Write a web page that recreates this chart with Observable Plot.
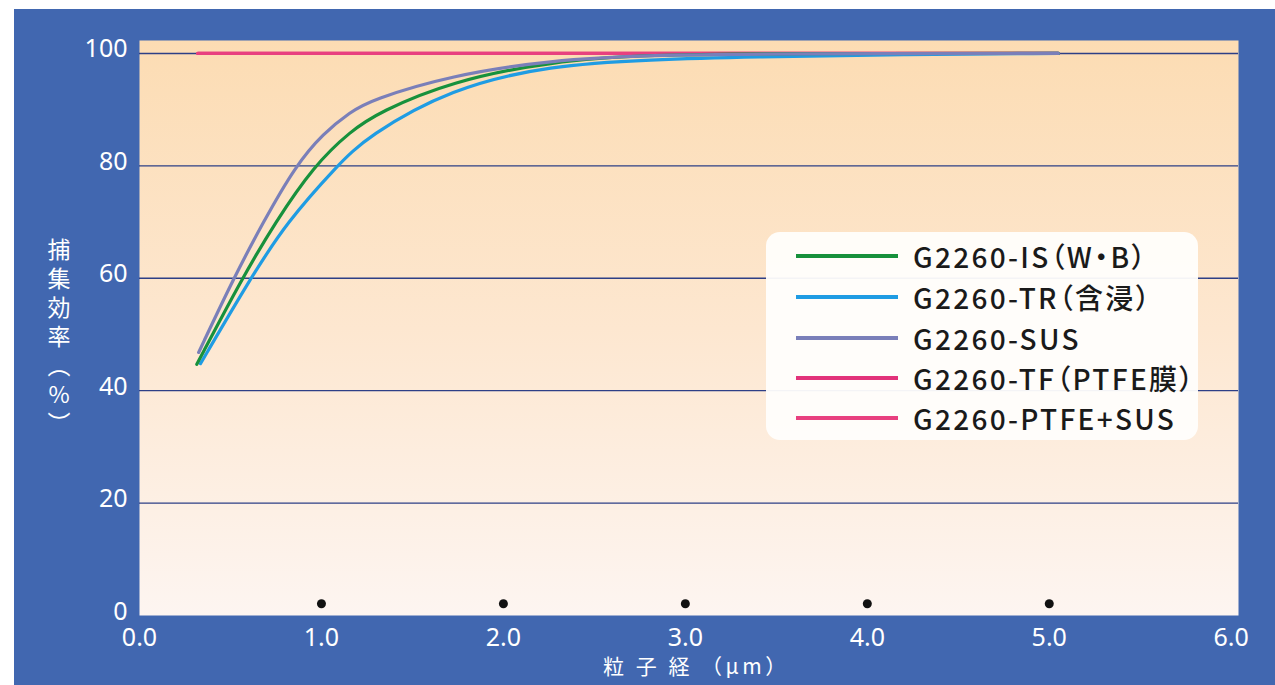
<!DOCTYPE html>
<html>
<head>
<meta charset="utf-8">
<script src="https://cdn.jsdelivr.net/npm/d3@7"></script>
<script src="https://cdn.jsdelivr.net/npm/@observablehq/plot@0.6"></script>
<style>
  html, body { margin: 0; padding: 0; background: #ffffff; width: 1275px; height: 685px; overflow: hidden; }
  #frame { position: absolute; left: 14px; top: 9px; width: 1261px; height: 676px; background: #4167b0; }
  #chart { position: absolute; left: 0; top: 0; }
  #ytitle { position: absolute; left: 47px; top: 238px; writing-mode: vertical-rl; text-orientation: upright;
            color: #fff; font-family: "Noto Sans CJK JP", sans-serif; font-size: 23px; letter-spacing: 6px; line-height: 1; }
  #xtitle { position: absolute; left: 603px; top: 655px; color: #fff; font-family: "Noto Sans CJK JP", sans-serif;
            font-size: 21px; letter-spacing: 3.5px; line-height: 1; white-space: pre; }
  #legend { position: absolute; left: 766px; top: 232px; width: 432px; height: 208px; background: rgba(255,254,252,0.95);
            border-radius: 14px; }
  .row { position: absolute; left: 30px; height: 32px; display: flex; align-items: center; }
  .sw { width: 102px; height: 4px; margin-right: 15px; }
  .lab { font-family: "Noto Sans CJK JP", sans-serif; font-size: 28px; font-weight: 500; color: #1a1a1a; white-space: nowrap;
         font-feature-settings: "palt"; letter-spacing: 2.3px; }
</style>
</head>
<body>
<div id="frame"></div>
<div id="chart"></div>
<div id="ytitle">捕集効率（%）</div>
<div id="xtitle">粒 子 経 （μm）</div>
<div id="legend"></div>
<script>
// ---- data ----
const seriesNames = ["G2260-IS（W・B）", "G2260-TR（含浸）", "G2260-SUS", "G2260-TF（PTFE膜）", "G2260-PTFE+SUS"];
const seriesColors = ["#17913c", "#1f9ce3", "#7a7fb9", "#e2337a", "#e8407f"];

const isX  = [0.315, 0.564, 0.747, 0.958, 1.16, 1.32, 1.71, 2.26, 2.81, 3.5, 5.05];
const isY  = [44.7, 60.0, 70.0, 80.0, 86.2, 89.6, 95.0, 98.6, 99.8, 100, 100];
const trX  = [0.335, 0.61, 0.81, 1.086, 1.25, 1.71, 2.26, 2.81, 3.36, 4.2, 5.05];
const trY  = [44.8, 60.0, 70.0, 80.0, 85.2, 93.8, 97.9, 98.9, 99.4, 99.8, 100];
const susX = [0.325, 0.517, 0.68, 0.857, 1.01, 1.16, 1.27, 1.71, 2.26, 2.81, 3.5, 5.05];
const susY = [46.8, 60.0, 70.0, 80.0, 85.8, 89.6, 91.7, 96.1, 98.8, 99.7, 99.95, 100];
const tfX  = [0.32, 5.05];
const tfY  = [100, 100];
const ptfeX = [0.32, 5.05];
const ptfeY = [100, 100];

const dotX = [1, 2, 3, 4, 5];
const dotY = [2.1, 2.1, 2.1, 2.1, 2.1];

const yTicks = [0, 20, 40, 60, 80, 100];
const gridY = [20, 40, 60, 80, 100];
const xTicks = [0, 1, 2, 3, 4, 5, 6];

// ---- build tables ----
const toRows = (xs, ys, name) => xs.map((x, i) => ({x, y: ys[i], name}));
const lines = [
  toRows(tfX, tfY, seriesNames[3]),
  toRows(ptfeX, ptfeY, seriesNames[4]),
  toRows(trX, trY, seriesNames[1]),
  toRows(isX, isY, seriesNames[0]),
  toRows(susX, susY, seriesNames[2])
];
const dots = dotX.map((x, i) => ({x, y: dotY[i]}));
const colorOf = name => seriesColors[seriesNames.indexOf(name)];

const plot = Plot.plot({
  width: 1275,
  height: 685,
  marginLeft: 139,
  marginRight: 37,
  marginTop: 40,
  marginBottom: 70,
  style: {background: "transparent", color: "#fff", fontFamily: "'Noto Sans', sans-serif", overflow: "visible"},
  x: {domain: [0, 6.04], label: null},
  y: {domain: [0, 102.3], label: null},
  marks: [
    Plot.frame({fill: "url(#plotbg)", stroke: null}),
    Plot.ruleY(gridY, {stroke: "#2d3f86", strokeWidth: 1.4}),
    ...lines.map(rows => Plot.line(rows, {x: "x", y: "y", stroke: colorOf(rows[0].name), strokeWidth: 3.2, curve: "basis"})),
    Plot.dot(dots, {x: "x", y: "y", r: 4.5, fill: "#111", stroke: null}),
    Plot.axisX({ticks: xTicks, tickFormat: d3.format(".1f"), tickSize: 0, tickPadding: 13, fontSize: 25, fill: "#fff"}),
    Plot.axisY({ticks: yTicks, tickSize: 0, tickPadding: 12, fontSize: 25, fill: "#fff", dy: -4})
  ]
});

// gradient for plot area
const ns = "http://www.w3.org/2000/svg";
const defs = document.createElementNS(ns, "defs");
const grad = document.createElementNS(ns, "linearGradient");
grad.setAttribute("id", "plotbg");
grad.setAttribute("x1", "0"); grad.setAttribute("y1", "0");
grad.setAttribute("x2", "0"); grad.setAttribute("y2", "1");
[["0%", "#fcdcb3"], ["50%", "#fde7d0"], ["100%", "#fdf5f1"]].forEach(([o, c]) => {
  const s = document.createElementNS(ns, "stop");
  s.setAttribute("offset", o); s.setAttribute("stop-color", c);
  grad.appendChild(s);
});
defs.appendChild(grad);
plot.insertBefore(defs, plot.firstChild);

document.getElementById("chart").appendChild(plot);

// legend
const legend = document.getElementById("legend");
const rowTops = [8, 49, 90, 130, 170];
seriesNames.forEach((name, i) => {
  const row = document.createElement("div");
  row.className = "row";
  row.style.top = rowTops[i] + "px";
  const sw = document.createElement("div");
  sw.className = "sw";
  sw.style.background = seriesColors[i];
  const lab = document.createElement("span");
  lab.className = "lab";
  lab.textContent = name;
  row.appendChild(sw); row.appendChild(lab);
  legend.appendChild(row);
});
</script>
</body>
</html>
